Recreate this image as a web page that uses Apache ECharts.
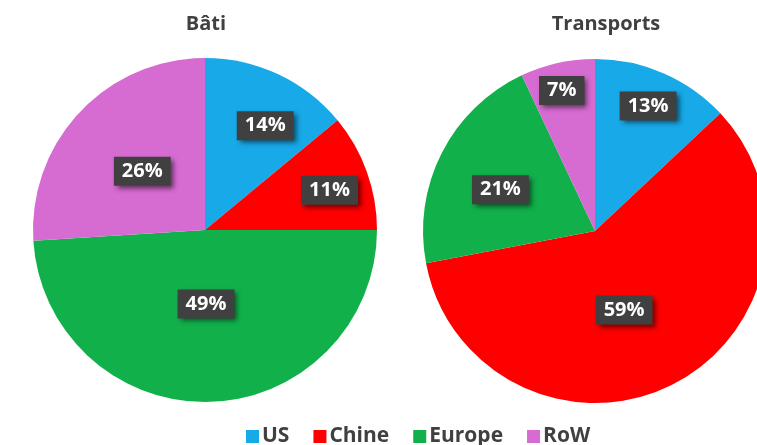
<!DOCTYPE html>
<html>
<head>
<meta charset="utf-8">
<style>
  html, body { margin: 0; padding: 0; background: #ffffff; }
  #chart { width: 757px; height: 445px; }
</style>
<script src="https://cdn.jsdelivr.net/npm/echarts@6/dist/echarts.min.js"></script>
</head>
<body>
<div id="chart"></div>
<script>
// Regions and their shares (%) for each sector
const regions = ['US', 'Chine', 'Europe', 'RoW'];
const batiValues = [14, 11, 49, 26];
const transportsValues = [13, 59, 21, 7];
const pieTitles = ['Bâti', 'Transports'];

const colors = ['#17a9e8', '#fe0000', '#11b04b', '#d66bd1'];

// Label placement: [fraction of radius, angular nudge in degrees]
const batiLabelPlace = [[0.70, 4.8], [0.76, 2.1], [0.43, 1.0], [0.50, 0]];
const transportsLabelPlace = [[0.79, -0.4], [0.49, 6.8], [0.60, -3.4], [0.84, -0.7]];

const FONT = '"Open Sans", "DejaVu Sans", sans-serif';
const RADIUS = 172;
const centers = [[205, 230], [595, 231]];

const chart = echarts.init(document.getElementById('chart'), null, { renderer: 'canvas' });

function makeSeries(idx, values, place) {
  const c = centers[idx];
  return {
    type: 'pie',
    name: pieTitles[idx],
    center: c,
    radius: [0, RADIUS],
    startAngle: 90,
    clockwise: true,
    avoidLabelOverlap: false,
    silent: true,
    itemStyle: { borderWidth: 0 },
    label: {
      show: true,
      position: 'inside',
      formatter: '{c}%',
      color: '#ffffff',
      fontFamily: FONT,
      fontWeight: 'bold',
      fontSize: 20,
      lineHeight: 22,
      backgroundColor: '#404040',
      padding: [4, 8, 3, 8],
      shadowColor: 'rgba(0,0,0,0.55)',
      shadowBlur: 5,
      shadowOffsetX: 3,
      shadowOffsetY: 3
    },
    labelLine: { show: false },
    // Move each label along its slice's mid-angle to the chosen radius
    labelLayout: function (p) {
      const pl = place[p.dataIndex];
      const lx = p.labelRect.x + p.labelRect.width / 2;
      const ly = p.labelRect.y + p.labelRect.height / 2;
      const theta = Math.atan2(lx - c[0], -(ly - c[1])) + pl[1] * Math.PI / 180;
      const r = pl[0] * RADIUS;
      return {
        x: c[0] + r * Math.sin(theta),
        y: c[1] - r * Math.cos(theta),
        align: 'center',
        verticalAlign: 'middle'
      };
    },
    emphasis: { disabled: true },
    data: regions.map((r, i) => ({ name: r, value: values[i] }))
  };
}

const titleStyle = { fontFamily: FONT, fontWeight: 'bold', fontSize: 20, color: '#404040' };

chart.setOption({
  animation: false,
  color: colors,
  title: [
    { text: pieTitles[0], left: 201, top: 9, textAlign: 'center', textStyle: titleStyle },
    { text: pieTitles[1], left: 601, top: 9, textAlign: 'center', textStyle: titleStyle }
  ],
  legend: {
    data: regions,
    top: 421,
    left: 241,
    icon: 'rect',
    itemWidth: 13,
    itemHeight: 13,
    itemGap: 24,
    selectedMode: false,
    textStyle: { fontFamily: FONT, fontWeight: 'bold', fontSize: 21, color: '#404040', padding: [0, 0, 0, -2] }
  },
  series: [
    makeSeries(0, batiValues, batiLabelPlace),
    makeSeries(1, transportsValues, transportsLabelPlace)
  ]
});
</script>
</body>
</html>
